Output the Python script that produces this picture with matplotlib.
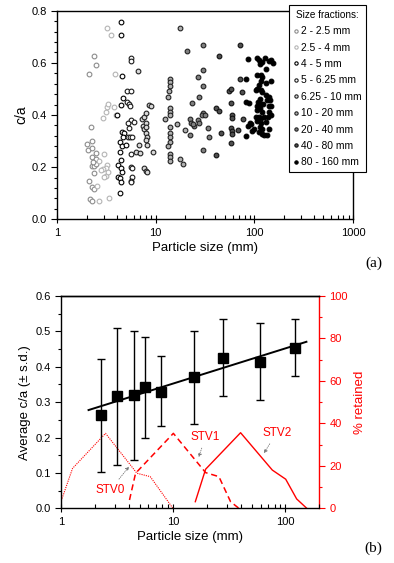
import numpy as np
import matplotlib
matplotlib.use("Agg")
import matplotlib.pyplot as plt
from matplotlib.ticker import (MultipleLocator, LogLocator, NullFormatter, FixedLocator,
                               FixedFormatter, FormatStrFormatter)

plt.rcParams['font.family'] = ['Liberation Sans', 'DejaVu Sans']

# ---- panel (a): c/a of individual particles, grouped by size fraction ----
fractions = ['2 - 2.5 mm', '2.5 - 4 mm', '4 - 5 mm', '5 - 6.25 mm', '6.25 - 10 mm',
             '10 - 20 mm', '20 - 40 mm', '40 - 80 mm', '80 - 160 mm']

g1_size = [2.11, 2.35, 2.45, 2.23, 2.01, 2.26, 2.06, 2.28, 2.50, 2.25, 2.46, 2.25, 2.35, 2.50,
           2.37, 2.08, 2.25, 2.39, 2.16, 2.25, 2.32]
g1_ca = [0.557, 0.626, 0.590, 0.355, 0.288, 0.302, 0.266, 0.275, 0.253, 0.238, 0.230, 0.204, 0.206, 0.212,
         0.179, 0.147, 0.125, 0.115, 0.077, 0.069, 0.220]
g2_size = [3.21, 3.53, 3.90, 2.93, 3.11, 3.21, 3.26, 3.78, 3.02, 3.21, 3.16, 2.95, 3.16, 3.02,
           3.37, 2.66, 2.66, 2.54, 3.93, 3.26, 2.80]
g2_ca = [0.732, 0.707, 0.557, 0.387, 0.411, 0.429, 0.442, 0.432, 0.252, 0.208, 0.198, 0.192, 0.166, 0.164,
         0.083, 0.070, 0.225, 0.128, 0.399, 0.180, 0.190]
g3_size = [4.49, 4.45, 4.52, 4.06, 4.63, 4.49, 4.52, 4.78, 4.32, 4.52, 4.95, 4.38, 4.45, 4.19,
           4.45, 4.52, 4.12, 4.32, 4.49, 4.38, 4.67]
g3_ca = [0.758, 0.705, 0.550, 0.399, 0.465, 0.437, 0.336, 0.332, 0.295, 0.281, 0.284, 0.259, 0.229, 0.210,
         0.196, 0.181, 0.164, 0.157, 0.142, 0.102, 0.316]
g4_size = [5.62, 5.62, 5.16, 5.58, 5.16, 5.41, 5.54, 5.62, 6.03, 5.28, 5.41, 5.28, 5.54, 5.80,
           5.67, 5.62, 5.75, 5.71, 5.58, 5.67]
g4_ca = [0.619, 0.606, 0.493, 0.491, 0.451, 0.443, 0.435, 0.381, 0.373, 0.368, 0.350, 0.316, 0.314, 0.314,
         0.250, 0.202, 0.197, 0.164, 0.148, 0.142]
g5_size = [6.62, 6.78, 6.37, 6.88, 7.33, 7.44, 7.55, 8.04, 8.56, 9.04, 7.55, 7.92, 8.04, 8.04,
           8.11, 8.04, 8.11, 7.55, 7.92, 8.17, 9.40]
g5_ca = [0.569, 0.286, 0.258, 0.256, 0.383, 0.358, 0.394, 0.409, 0.437, 0.436, 0.345, 0.368, 0.355, 0.332,
         0.317, 0.304, 0.285, 0.196, 0.187, 0.183, 0.257]
g6_size = [17.5, 13.8, 13.8, 13.8, 13.6, 13.4, 13.8, 13.8, 13.8, 12.5, 16.5, 13.8, 13.8, 13.8,
           13.8, 13.4, 13.8, 13.8, 13.8, 17.5, 19.1, 19.8]
g6_ca = [0.735, 0.537, 0.528, 0.511, 0.493, 0.470, 0.426, 0.413, 0.400, 0.383, 0.365, 0.355, 0.332, 0.317,
         0.298, 0.281, 0.250, 0.240, 0.225, 0.230, 0.212, 0.342]
g7_size = [20.9, 26.7, 23.4, 22.3, 22.8, 22.5, 24.7, 27.1, 27.5, 23.6, 29.8, 29.8, 29.8, 30.3,
           29.3, 31.3, 27.6, 33.7, 34.8, 29.8]
g7_ca = [0.647, 0.547, 0.445, 0.383, 0.368, 0.323, 0.358, 0.381, 0.468, 0.365, 0.668, 0.573, 0.511, 0.409,
         0.399, 0.399, 0.368, 0.349, 0.317, 0.266]
g8_size = [43.6, 71.3, 40.4, 43.6, 41.0, 46.3, 55.0, 58.5, 74.1, 58.5, 59.4, 59.4, 58.0, 59.4,
           59.4, 58.5, 68.6, 75.9, 71.3]
g8_ca = [0.626, 0.668, 0.426, 0.415, 0.245, 0.330, 0.493, 0.498, 0.489, 0.447, 0.400, 0.387, 0.349, 0.339,
         0.327, 0.291, 0.342, 0.383, 0.538]
g9_size = [81.8, 83.1, 86.4, 91.1, 95.4, 83.1, 88.4, 85.7, 107, 111, 128, 140, 146, 153, 118.5, 113,
           132, 107, 116, 120, 132, 149, 116, 111, 107, 103, 116, 120, 130, 140, 145, 135, 113,
           109.6, 116, 122, 107, 140, 149, 113, 107, 118.5, 140, 146, 103, 111, 116, 125, 136,
           107, 116, 91.8, 99.8, 120, 140, 111, 118.5, 125, 135, 115, 130]
g9_ca = [0.538, 0.319, 0.358, 0.368, 0.340, 0.450, 0.445, 0.613, 0.619, 0.611, 0.619, 0.606, 0.611, 0.598,
         0.603, 0.594, 0.575, 0.553, 0.553, 0.544, 0.524, 0.530, 0.532, 0.515, 0.498, 0.496, 0.496,
         0.489, 0.477, 0.470, 0.458, 0.458, 0.460, 0.451, 0.442, 0.442, 0.435, 0.435, 0.435, 0.426,
         0.419, 0.413, 0.413, 0.400, 0.394, 0.394, 0.387, 0.391, 0.391, 0.378, 0.368, 0.365, 0.346,
         0.346, 0.345, 0.336, 0.327, 0.323, 0.323, 0.355, 0.373]

group_sizes = [g1_size, g2_size, g3_size, g4_size, g5_size, g6_size, g7_size, g8_size, g9_size]
group_ca = [g1_ca, g2_ca, g3_ca, g4_ca, g5_ca, g6_ca, g7_ca, g8_ca, g9_ca]

# ---- panel (b): mean c/a per fraction and grading curves ----
mean_size = [2.27, 3.17, 4.45, 5.53, 7.8, 15.4, 27.6, 58.9, 122]
mean_ca = [0.264, 0.316, 0.320, 0.343, 0.330, 0.370, 0.426, 0.414, 0.454]
ca_upper = [0.422, 0.510, 0.502, 0.484, 0.430, 0.502, 0.534, 0.523, 0.534]
ca_lower = [0.103, 0.122, 0.136, 0.200, 0.232, 0.238, 0.317, 0.307, 0.374]
fit_size = [1.75, 154]

stv0_size = [1.0, 1.26, 2.48, 4.73, 6.22, 9.9]
stv0_pct = [3.6, 18.8, 35.3, 16.5, 14.9, 0.0]
stv1_size = [4.06, 4.6, 10.0, 19.4, 25.5, 32.4, 38.4]
stv1_pct = [3.9, 16.5, 35.3, 16.8, 14.9, 3.1, 0.0]
stv2_size = [15.7, 19.4, 39.8, 76.4, 100.6, 126, 155]
stv2_pct = [3.1, 18.4, 35.6, 18.0, 13.7, 4.4, 0.0]


def main():
    fig = plt.figure(figsize=(3.94, 5.63), dpi=100)
    plot_scatter(fig)
    plot_average(fig)
    fig.savefig('out.png', dpi=100)


def plot_scatter(fig):
    ax = fig.add_axes([0.145, 0.6105, 0.751, 0.3705])
    faces = ['white', 'white', 'white', 'white', '#d8d8d8', '#b0b0b0', '#808080', '#505050', 'black']
    edges = ['#8c8c8c', '#b4b4b4', 'black', '#1a1a1a', '#222222', '#222222', '#222222', '#111111', 'black']
    handles = []
    for sizes, ca, fc, ec, lab in zip(group_sizes, group_ca, faces, edges, fractions):
        h, = ax.plot(sizes, ca, 'o', ms=3.4, mfc=fc, mec=ec, mew=0.8, ls='none', label=lab)
        handles.append(h)
    ax.set_xscale('log')
    ax.set_xlim(1, 1000)
    ax.set_ylim(0, 0.8)
    ax.yaxis.set_major_locator(MultipleLocator(0.2))
    ax.yaxis.set_minor_locator(MultipleLocator(0.04))
    ax.yaxis.set_major_formatter(FormatStrFormatter('%.1f'))
    ax.xaxis.set_major_locator(FixedLocator([1, 10, 100, 1000]))
    ax.xaxis.set_major_formatter(FixedFormatter(['1', '10', '100', '1000']))
    ax.xaxis.set_minor_locator(LogLocator(base=10, subs=np.arange(2, 10)))
    ax.xaxis.set_minor_formatter(NullFormatter())
    style_axis(ax)
    ax.set_xlabel('Particle size (mm)', fontsize=9.5, labelpad=3)
    ax.set_ylabel('c/a', fontsize=10, labelpad=2)

    leg = ax.legend(handles=handles, title='Size fractions:', loc='upper left',
                    bbox_to_anchor=(0.7335, 0.9906), bbox_transform=fig.transFigure,
                    fontsize=7.4, title_fontsize=7.2, fancybox=False, framealpha=1,
                    edgecolor='black', handlelength=0.5, handletextpad=0.2,
                    labelspacing=0.62, borderpad=0.45, borderaxespad=0, markerscale=0.7)
    leg.get_frame().set_linewidth(0.8)
    fig.text(0.97, 0.532, '(a)', family='Liberation Serif', fontsize=11, ha='right', va='center')


def plot_average(fig):
    ax1 = fig.add_axes([0.1556, 0.0972, 0.6544, 0.377])
    ax2 = ax1.twinx()
    ax1.set_zorder(ax2.get_zorder() + 1)
    ax1.patch.set_visible(False)

    red = '#ff0000'
    ax2.plot(stv0_size, stv0_pct, color=red, lw=0.8, ls=(0, (1, 1)))
    ax2.plot(stv1_size, stv1_pct, color=red, lw=1.1, ls=(0, (4, 2.5)))
    ax2.plot(stv2_size, stv2_pct, color=red, lw=1.0)
    ax2.set_ylim(0, 100)
    ax2.yaxis.set_major_locator(MultipleLocator(20))
    ax2.yaxis.set_minor_locator(MultipleLocator(10))
    ax2.tick_params(axis='y', which='both', colors=red, labelsize=8, direction='out')
    ax2.tick_params(axis='y', which='major', length=4, width=0.8)
    ax2.tick_params(axis='y', which='minor', length=2, width=0.8)
    ax2.spines['right'].set_color(red)
    ax2.spines['right'].set_linewidth(1)
    ax2.set_ylabel('% retained', color=red, fontsize=9.5, labelpad=4)

    arrow = dict(arrowstyle='-|>', color='#777777', lw=0.6, mutation_scale=5, ls=':')
    ax2.annotate('STV0', xy=(4.18, 20.7), xytext=(2.73, 8.6), color=red, fontsize=8.5,
                 ha='center', va='center', arrowprops=arrow)
    ax2.annotate('STV1', xy=(16.5, 22.8), xytext=(19.4, 33.7), color=red, fontsize=8.5,
                 ha='center', va='center', arrowprops=arrow)
    ax2.annotate('STV2', xy=(62.3, 24.8), xytext=(83.6, 35.6), color=red, fontsize=8.5,
                 ha='center', va='center', arrowprops=arrow)

    mean_arr = np.array(mean_ca)
    yerr = [mean_arr - np.array(ca_lower), np.array(ca_upper) - mean_arr]
    ax1.errorbar(mean_size, mean_ca, yerr=yerr, fmt='s', color='black', ms=6.5,
                 ecolor='black', elinewidth=1.0, capsize=3, capthick=1.0)
    # least-squares fit of mean c/a against log size
    coef = np.polyfit(np.log10(mean_size), mean_ca, 1)
    fit_x = np.array(fit_size)
    ax1.plot(fit_x, coef[0] * np.log10(fit_x) + coef[1], color='black', lw=1.4)

    ax1.set_xscale('log')
    ax1.set_xlim(1, 200)
    ax1.set_ylim(0, 0.6)
    ax1.yaxis.set_major_locator(MultipleLocator(0.1))
    ax1.yaxis.set_minor_locator(MultipleLocator(0.05))
    ax1.yaxis.set_major_formatter(FormatStrFormatter('%.1f'))
    ax1.xaxis.set_major_locator(FixedLocator([1, 10, 100]))
    ax1.xaxis.set_major_formatter(FixedFormatter(['1', '10', '100']))
    ax1.xaxis.set_minor_locator(LogLocator(base=10, subs=np.arange(2, 10)))
    ax1.xaxis.set_minor_formatter(NullFormatter())
    style_axis(ax1, right=False)
    ax2.spines['top'].set_linewidth(1)
    ax2.spines['left'].set_visible(False)
    ax2.spines['bottom'].set_visible(False)
    ax1.set_xlabel('Particle size (mm)', fontsize=9.5, labelpad=3)
    ax1.set_ylabel('Average c/a (\u00b1 s.d.)', fontsize=9.5, labelpad=3)
    fig.text(0.97, 0.027, '(b)', family='Liberation Serif', fontsize=11, ha='right', va='center')


def style_axis(ax, right=True):
    for side in ['left', 'bottom', 'top', 'right']:
        ax.spines[side].set_linewidth(1)
    if not right:
        ax.spines['right'].set_visible(False)
    ax.tick_params(axis='y', which='major', direction='out', length=4, width=0.8, labelsize=8)
    ax.tick_params(axis='y', which='minor', direction='out', length=2, width=0.8)
    ax.tick_params(axis='x', which='major', direction='inout', length=6, width=0.8, labelsize=8)
    ax.tick_params(axis='x', which='minor', direction='in', length=3, width=0.8)


if __name__ == "__main__":
    main()
